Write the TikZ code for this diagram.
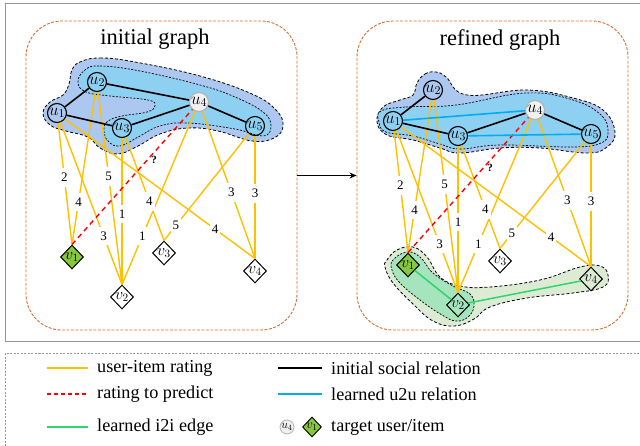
\RequirePackage{fix-cm}
\documentclass[tikz,border=0pt]{standalone}
\usepackage{fontspec}
\setmainfont{Liberation Serif}
\usetikzlibrary{arrows.meta,shapes.geometric}
\definecolor{rateY}{RGB}{255,192,0}
\definecolor{blobOut}{RGB}{173,200,240}
\definecolor{blobIn}{RGB}{142,208,242}
\definecolor{grOut}{RGB}{220,235,212}
\definecolor{grIn}{RGB}{166,228,190}
\definecolor{itoi}{RGB}{46,214,110}
\definecolor{utou}{RGB}{0,174,239}
\definecolor{boxOr}{RGB}{214,110,50}
\definecolor{tgtgreen}{RGB}{134,198,64}
\definecolor{frameGray}{RGB}{150,150,150}
\tikzset{
  user/.style={circle, draw, line width=1.1pt, minimum size=19pt, inner sep=-1pt, font=\fontsize{17}{18}\selectfont},
  tuser/.style={user, fill=gray!12, draw=gray!60},
  item/.style={diamond, draw, line width=1pt, minimum width=23pt, minimum height=24pt, inner sep=-2.5pt, font=\fontsize{16}{17}\selectfont},
  rate/.style={rateY, line width=1.4pt},
  social/.style={black, line width=1.6pt},
  learnu/.style={utou, line width=1.6pt},
  learni/.style={itoi, line width=1.5pt},
  pred/.style={red, line width=1.4pt, dash pattern=on 5pt off 4pt},
  lbl/.style={fill=white, text=black, inner xsep=2pt, inner ysep=5pt, font=\fontsize{13}{14}\selectfont},
  qm/.style={text=black, font=\fontsize{11}{12}\selectfont\bfseries, inner sep=0pt},
  obox/.style={draw=boxOr, dash pattern=on 3pt off 1.5pt, rounded corners=36pt, line width=0.9pt},
  outblob/.style={draw=black, fill=blobOut, line width=0.8pt, dash pattern=on 3pt off 2pt},
  inblob/.style={draw=black, fill=blobIn, line width=0.7pt, dash pattern=on 2pt off 1.5pt},
  goutblob/.style={draw=black, fill=grOut, line width=0.8pt, dash pattern=on 3pt off 2pt},
  ginblob/.style={draw=black, fill=grIn, line width=0.7pt, dash pattern=on 2pt off 1.5pt},
  ttl/.style={font=\fontsize{22.5}{26}\selectfont, anchor=base},
  legtxt/.style={font=\fontsize{18.2}{20}\selectfont, anchor=west, inner sep=0pt},
}
\newcommand\mkgraph[1]{%
  \node[user] (#1u1) at (57,113) {$u_1$};
  \node[user] (#1u2) at (97,82) {$u_2$};
  \node[user] (#1u3) at (122,128) {$u_3$};
  \node[tuser] (#1u4) at (199,102) {$u_4$};
  \node[user] (#1u5) at (255,126) {$u_5$};
  \node[item, fill=tgtgreen] (#1v1) at (72,257) {$v_1$};
  \node[item] (#1v2) at (122,297) {$v_2$};
  \node[item] (#1v3) at (164,253) {$v_3$};
  \node[item] (#1v4) at (255,271) {$v_4$};
  \draw[rate] (#1u1) -- (#1v1.north) node[lbl,pos=.45]{2};
  \draw[rate] (#1u2) -- (#1v1.north) node[lbl,pos=.72]{4};
  \draw[rate] (#1u2) -- (#1v2.north) node[lbl,pos=.44]{5};
  \draw[rate] (#1u1) -- (#1v2.north) node[lbl,pos=.70]{3};
  \draw[rate] (#1u3) -- (#1v2.north) node[lbl,pos=.52]{1};
  \draw[rate] (#1u4) -- (#1v2.north) node[lbl,pos=.72]{1};
  \draw[rate] (#1u3) -- (#1v3.north) node[lbl,pos=.62]{4};
  \draw[rate] (#1u5) -- (#1v3.north) node[lbl,pos=.86]{5};
  \draw[rate] (#1u1) -- (#1v4.north) node[lbl,pos=.79]{4};
  \draw[rate] (#1u4) -- (#1v4.north) node[lbl,pos=.55]{3};
  \draw[rate] (#1u5) -- (#1v4.north) node[lbl,pos=.47]{3};
  \draw[pred] (#1v1.north) -- (#1u4);
  \node[qm] (#1q) at (154,160) {?};
}
\begin{document}
\begin{tikzpicture}[x=1pt,y=-1pt]
\useasboundingbox (0,0) rectangle (640,446);
\draw[frameGray, line width=1pt] (5,4) rectangle (660,342);
\draw[frameGray, line width=0.8pt, dash pattern=on 2pt off 1.5pt] (5,353) rectangle (660,470);
% panels
\node[obox, minimum width=271pt, minimum height=309pt] (Lbox) at (161.5,175.5) {};
\node[obox, minimum width=271pt, minimum height=309pt] (Rbox) at (492.5,175.5) {};
\draw[-{Stealth[length=7pt,width=6pt]}, line width=1.2pt] (Lbox.east) -- (Rbox.west);
\node[ttl] (Lttl) at (155,45) {initial graph};
\node[ttl] (Rttl) at (500,46) {refined graph};
% left graph
\path[outblob] plot[smooth cycle, tension=0.7] coordinates {(80,62) (100,58) (135,62) (200,76) (252,94) (276,110) (283,126) (274,138) (252,141) (218,131) (188,128) (160,134) (138,146) (118,154) (100,148) (88,137) (66,131) (50,125) (43,113) (50,102) (63,95) (69,84) (72,70)};
\path[inblob] plot[smooth cycle, tension=0.7] coordinates {(85,70) (100,66) (140,71) (200,85) (235,97) (263,112) (271,126) (263,136) (235,129) (188,123) (160,126) (140,136) (120,146) (108,141) (104,130) (108,121) (122,116) (147,112) (155,106) (148,100) (110,96) (86,92) (78,82)};
\mkgraph{L}
\draw[social] (Lu1) -- (Lu2);
\draw[social] (Lu1) -- (Lu3);
\draw[social] (Lu2) -- (Lu4);
\draw[social] (Lu3) -- (Lu4);
\draw[social] (Lu4) -- (Lu5);
% right graph
\begin{scope}[shift={(336,8)}]
\path[outblob] plot[smooth cycle, tension=0.7] coordinates {(81,75) (89,66) (100,64) (110,69) (131,87) (191,82) (237,90) (267,102) (279,124) (271,139) (251,145) (204,140) (164,140) (124,145) (104,140) (77,132) (51,127) (41,114) (47,99) (64,92) (77,87)};
\path[inblob] plot[smooth cycle, tension=0.7] coordinates {(45,103) (70,99) (120,97) (190,85) (237,92) (265,107) (272,124) (265,135) (237,139) (164,137) (124,141) (104,136) (77,128) (50,124) (43,114)};
\path[goutblob] plot[smooth cycle, tension=0.7] coordinates {(51,252) (61,242) (77,239) (91,249) (104,269) (124,278) (154,279) (204,272) (244,259) (264,258) (272,267) (267,279) (237,285) (191,290) (154,299) (138,311) (118,318) (97,313) (77,296) (57,275) (49,259)};
\path[ginblob] plot[smooth cycle, tension=0.7] coordinates {(57,252) (71,244) (84,249) (97,265) (117,278) (134,286) (138,298) (132,309) (120,313) (106,307) (84,292) (64,275) (56,262)};
\mkgraph{R}
\draw[social] (Ru1) -- (Ru2);
\draw[social] (Ru1) -- (Ru3);
\draw[social] (Ru3) -- (Ru4);
\draw[social] (Ru4) -- (Ru5);
\draw[learnu] (Ru1) -- (Ru4);
\draw[learnu] (Ru3) -- (Ru5);
\draw[learni] (Rv1) -- (Rv2);
\draw[learni] (Rv2) -- (Rv4);
\end{scope}
% legend
\coordinate (la1) at (47,368); \coordinate (lb1) at (88,368);
\coordinate (la2) at (47,394); \coordinate (lb2) at (88,394);
\coordinate (la3) at (47,427); \coordinate (lb3) at (88,427);
\coordinate (lc1) at (278,368); \coordinate (ld1) at (322,368);
\coordinate (lc2) at (278,394); \coordinate (ld2) at (322,394);
\draw[rateY, line width=1.3pt] (la1) -- (lb1);
\draw[red, line width=1.3pt, dash pattern=on 4pt off 3pt] (la2) -- (lb2);
\draw[itoi, line width=1.5pt] (la3) -- (lb3);
\draw[black, line width=1.5pt] (lc1) -- (ld1);
\draw[utou, line width=1.5pt] (lc2) -- (ld2);
\node[legtxt] (t1) at (97,368) {user-item rating};
\node[legtxt] (t2) at (97,394) {rating to predict};
\node[legtxt] (t3) at (97,427) {learned i2i edge};
\node[legtxt] (t4) at (331,368) {initial social relation};
\node[legtxt] (t5) at (331,394) {learned u2u relation};
\node[legtxt] (t6) at (331,427) {target user/item};
\node[tuser, minimum size=14pt, line width=0.8pt, font=\fontsize{12}{13}\selectfont] (lu4) at (287,427) {$u_4$};
\node[item, fill=tgtgreen, minimum width=19pt, minimum height=20pt, line width=0.9pt, font=\fontsize{13}{14}\selectfont] (lv1) at (312,427) {$v_1$};
\end{tikzpicture}
\end{document}
